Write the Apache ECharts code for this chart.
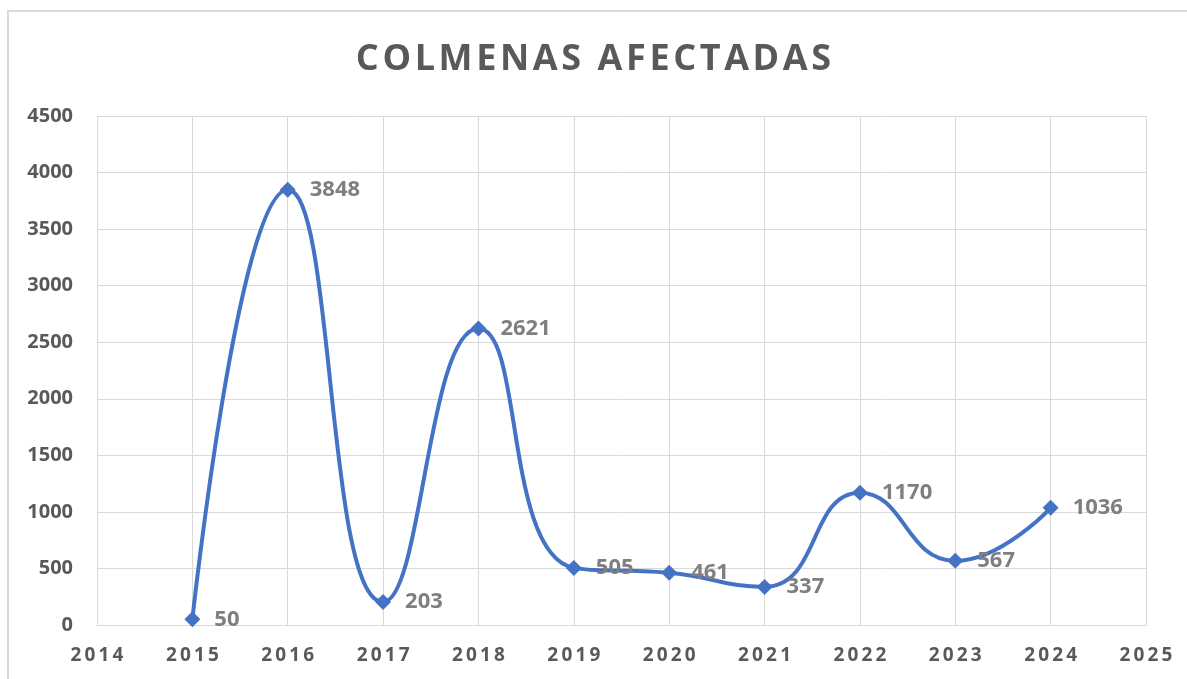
<!DOCTYPE html>
<html>
<head>
<meta charset="utf-8">
<script src="https://cdn.jsdelivr.net/npm/echarts@6/dist/echarts.min.js"></script>
<style>
  html, body { margin: 0; padding: 0; background: #fff; }
  #chart { width: 1187px; height: 679px; }
</style>
</head>
<body>
<div id="chart"></div>
<script>
var years = [2015, 2016, 2017, 2018, 2019, 2020, 2021, 2022, 2023, 2024];
var colmenas = [50, 3848, 203, 2621, 505, 461, 337, 1170, 567, 1036];
var titleText = 'COLMENAS AFECTADAS';

// spaced out letters, like the original
function spaced(s, sp) {
	return String(s).split('').join(sp);
}

var points = years.map(function (y, i) {
	return [y, colmenas[i]];
});

var option = {
	backgroundColor: '#fff',
	animation: false,
	title: {
		text: spaced(titleText, '\u200a'),
		left: 'center',
		top: 37,
		textStyle: {
			fontFamily: 'Open Sans',
			fontWeight: 'bold',
			fontSize: 36,
			color: '#595959',
		},
	},
	graphic: [{
		type: 'rect',
		shape: { x: 8, y: 11, width: 1200, height: 700 },
		style: { fill: 'none', stroke: '#d9d9d9', lineWidth: 2 },
		silent: true,
	}],
	grid: {
		left: 97,
		right: 41,
		top: 116,
		bottom: 54,
	},
	xAxis: {
		type: 'value',
		min: 2014,
		max: 2025,
		interval: 1,
		axisLine: { show: true, lineStyle: { color: '#d9d9d9', width: 1 } },
		axisTick: { show: false },
		splitLine: { show: true, lineStyle: { color: '#d9d9d9', width: 1 } },
		axisLabel: {
			margin: 21,
			fontFamily: 'Open Sans',
			fontWeight: 'bold',
			fontSize: 19,
			color: '#595959',
			formatter: function (v) { return spaced(v, '\u2009'); },
		},
	},
	yAxis: {
		type: 'value',
		min: 0,
		max: 4500,
		interval: 500,
		axisLine: { show: false },
		axisTick: { show: false },
		splitLine: { show: true, lineStyle: { color: '#d9d9d9', width: 1 } },
		axisLabel: {
			margin: 24,
			fontFamily: 'Open Sans',
			fontWeight: 'bold',
			fontSize: 20,
			color: '#595959',
			formatter: function (v) { return String(v); },
		},
	},
	series: [{
		type: 'line',
		data: points,
		smooth: 0.5,
		symbol: 'diamond',
		symbolSize: 16,
		lineStyle: { color: '#4472c4', width: 4 },
		itemStyle: { color: '#4472c4' },
		label: {
			show: true,
			position: 'right',
			distance: 14,
			fontFamily: 'Open Sans',
			fontWeight: 'bold',
			fontSize: 22,
			color: '#7f7f7f',
			formatter: function (p) { return p.value[1]; },
		},
	}],
};

var myChart = echarts.init(document.getElementById('chart'));
myChart.setOption(option);
</script>
</body>
</html>
